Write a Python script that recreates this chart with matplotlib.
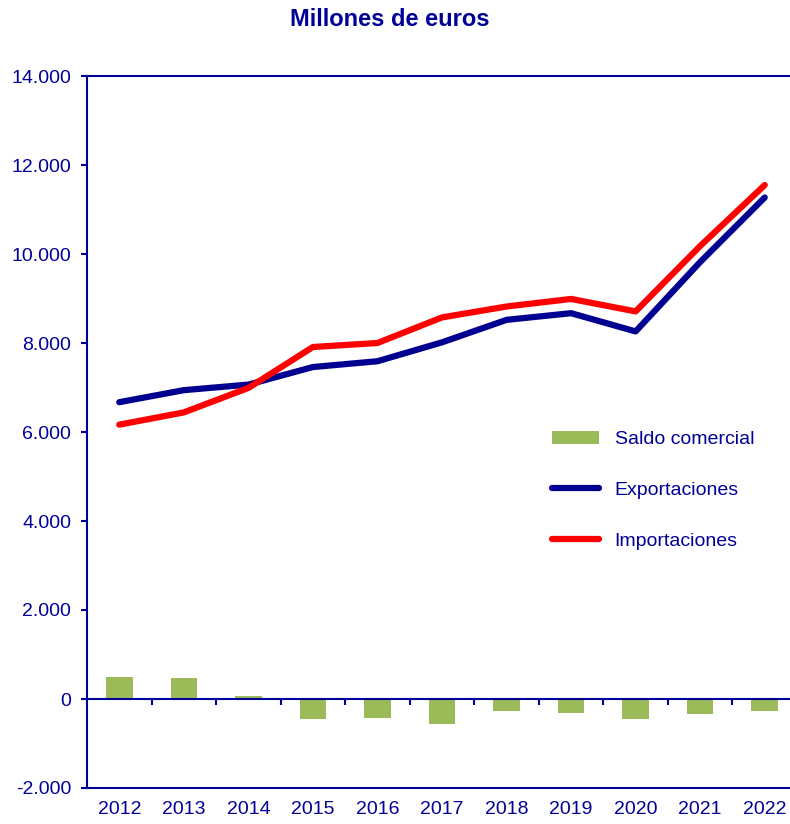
import matplotlib.pyplot as plt
import numpy as np

plt.rcParams['font.family'] = ['Liberation Sans', 'DejaVu Sans']

# datos (millones de euros)
years = ['2012', '2013', '2014', '2015', '2016', '2017', '2018', '2019', '2020', '2021', '2022']
exportaciones = [6670, 6940, 7065, 7460, 7590, 8015, 8520, 8670, 8260, 9820, 11270]
importaciones = [6165, 6440, 6990, 7910, 8000, 8575, 8820, 8990, 8710, 10180, 11550]
saldo = [490, 470, 60, -455, -425, -560, -275, -305, -450, -330, -270]

navy = '#000099'
x = np.arange(len(years))

fig = plt.figure(figsize=(7.9, 8.24), dpi=100)
ax = fig.add_axes([87/790, 1 - 788/824, 710/790, 712/824])

b = ax.bar(x, saldo, width=0.41, color='#9BBB59', label='Saldo comercial', zorder=2)
l1, = ax.plot(x, exportaciones, color='#000090', lw=4.5, solid_capstyle='round',
              label='Exportaciones', zorder=3)
l2, = ax.plot(x, importaciones, color='#FF0000', lw=4.5, solid_capstyle='round',
              label='Importaciones', zorder=4)

ax.set_xlim(-0.5, len(years) - 0.5)
ax.set_ylim(-2000, 14000)
yt = np.arange(-2000, 14001, 2000)
ax.set_yticks(yt)
ax.set_yticklabels([f'{v:,}'.replace(',', '.') for v in yt])
ax.tick_params(axis='y', colors=navy, labelsize=14, length=4, width=1.5, pad=7.5, direction='out')

# linea del cero con marcas entre categorias
ax.spines['bottom'].set_position(('data', 0))
ax.set_xticks([])
ax.set_xticks(x[:-1] + 0.5, minor=True)
ax.tick_params(axis='x', which='minor', colors=navy, length=4, width=1.5, direction='out')

sec = ax.secondary_xaxis(0)
sec.set_xticks(x)
sec.set_xticklabels(years)
sec.tick_params(colors=navy, labelsize=14, length=0, pad=9)
sec.spines['bottom'].set_color(navy)
sec.spines['bottom'].set_linewidth(1.5)

for s in ['left', 'top', 'bottom']:
    ax.spines[s].set_color(navy)
    ax.spines[s].set_linewidth(1.5)
ax.spines['right'].set_visible(False)

leg = ax.legend([b, l1, l2], ['Saldo comercial', 'Exportaciones', 'Importaciones'],
                loc='upper left', bbox_to_anchor=(534/790, 1 - 413/824),
                bbox_transform=fig.transFigure, frameon=False, fontsize=14,
                handlelength=2.45, handletextpad=0.8, labelspacing=1.72)
for t in leg.get_texts():
    t.set_color(navy)

fig.text(390/790, 1 - 19/824, 'Millones de euros', ha='center', va='center',
         fontsize=17, fontweight='bold', color=navy)

fig.savefig('out.png', dpi=100)
